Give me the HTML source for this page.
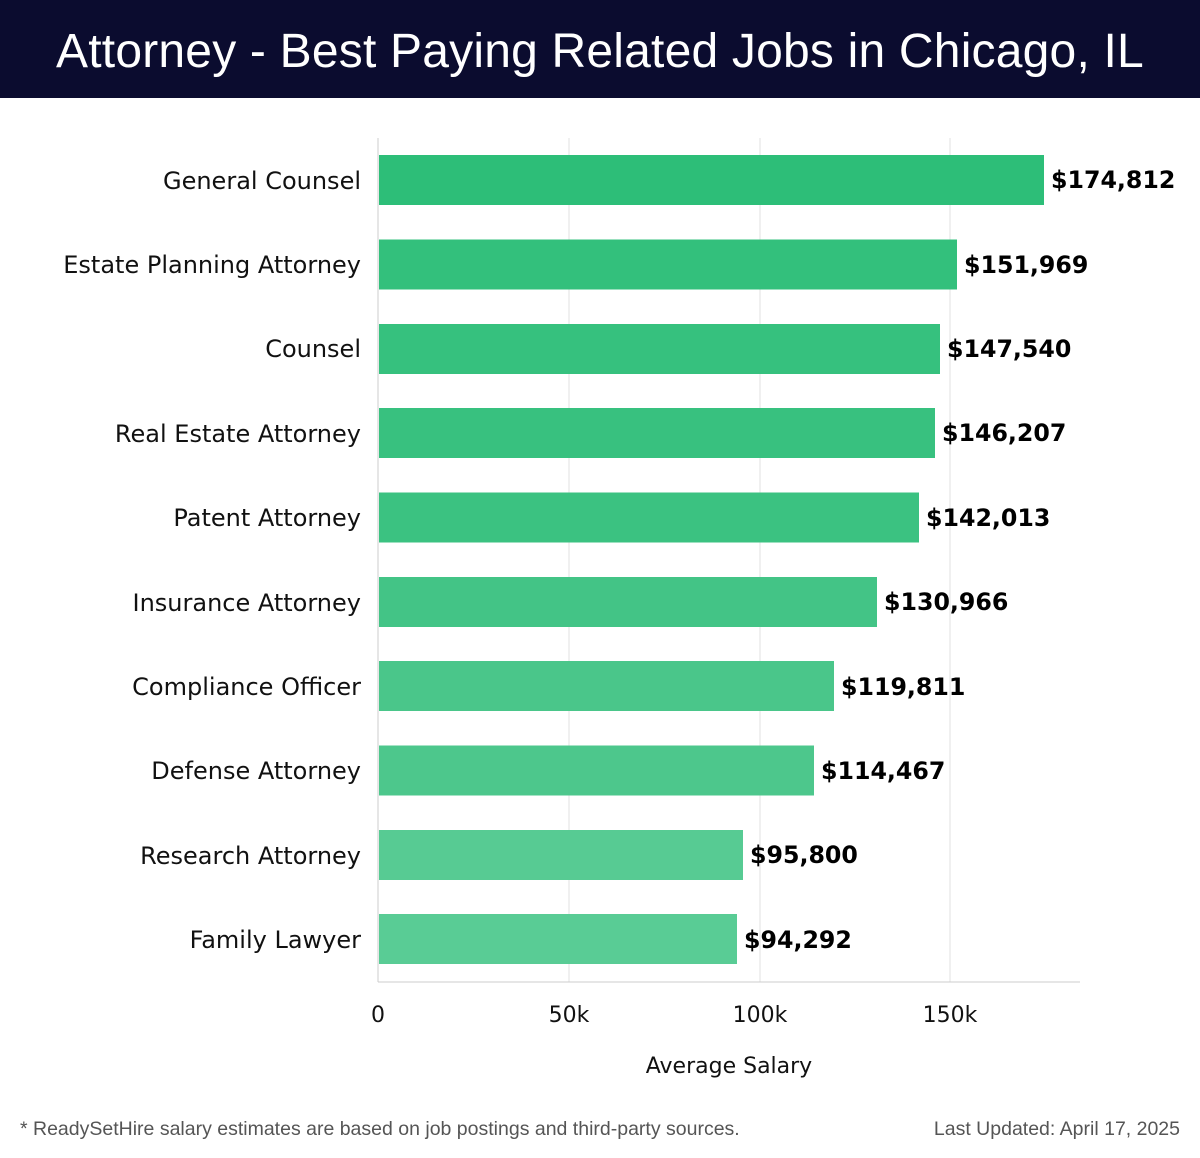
<!DOCTYPE html>
<html><head><meta charset="utf-8"><style>
body{margin:0;width:1200px;height:1158px;background:#fff;font-family:"Liberation Sans","DejaVu Sans",sans-serif;position:relative;overflow:hidden}
.hdr{position:absolute;left:0;top:0;width:1200px;height:98px;background:#0b0c2f;color:#fff;font-size:48px;text-align:center;line-height:104px;letter-spacing:0.2px}
svg{position:absolute;left:0;top:0}
.ft{position:absolute;top:1118px;font-size:19.5px;color:#555}
</style></head><body>
<div class="hdr">Attorney - Best Paying Related Jobs in Chicago, IL</div>
<svg width="1200" height="1158" font-family="DejaVu Sans, sans-serif">
<g stroke="#e2e2e2" stroke-width="1">
<line x1="569" y1="138" x2="569" y2="982"/><line x1="760" y1="138" x2="760" y2="982"/><line x1="950" y1="138" x2="950" y2="982"/>
</g>
<line x1="378" y1="138" x2="378" y2="982" stroke="#ccc"/>
<line x1="378" y1="982" x2="1080" y2="982" stroke="#ccc"/>
<g font-size="24" text-anchor="end" fill="#111">
<text x="361" y="189">General Counsel</text>
<text x="361" y="273">Estate Planning Attorney</text>
<text x="361" y="357">Counsel</text>
<text x="361" y="442">Real Estate Attorney</text>
<text x="361" y="526">Patent Attorney</text>
<text x="361" y="611">Insurance Attorney</text>
<text x="361" y="695">Compliance Officer</text>
<text x="361" y="779">Defense Attorney</text>
<text x="361" y="864">Research Attorney</text>
<text x="361" y="948">Family Lawyer</text>
</g>
<g>
<rect x="379" y="155" width="665" height="50" fill="#2dbe78"/>
<rect x="379" y="239.5" width="578" height="50" fill="#33c07c"/>
<rect x="379" y="324" width="561" height="50" fill="#36c17e"/>
<rect x="379" y="408" width="556" height="50" fill="#38c17f"/>
<rect x="379" y="492.5" width="540" height="50" fill="#3bc281"/>
<rect x="379" y="577" width="498" height="50" fill="#43c486"/>
<rect x="379" y="661" width="455" height="50" fill="#4ac68a"/>
<rect x="379" y="745.5" width="435" height="50" fill="#4dc78c"/>
<rect x="379" y="830" width="364" height="50" fill="#57cb93"/>
<rect x="379" y="914" width="358" height="50" fill="#59cc95"/>
</g>
<g font-size="23.7" font-weight="bold" fill="#000">
<text x="1051" y="188">$174,812</text>
<text x="964" y="273">$151,969</text>
<text x="947" y="357">$147,540</text>
<text x="942" y="441">$146,207</text>
<text x="926" y="526">$142,013</text>
<text x="884" y="610">$130,966</text>
<text x="841" y="695">$119,811</text>
<text x="821" y="779">$114,467</text>
<text x="750" y="863">$95,800</text>
<text x="744" y="948">$94,292</text>
</g>
<g font-size="22" text-anchor="middle" fill="#111">
<text x="378" y="1022">0</text><text x="569" y="1022">50k</text><text x="760" y="1022">100k</text><text x="950" y="1022">150k</text>
<text x="729" y="1073">Average Salary</text>
</g>
</svg>
<div class="ft" style="left:20px">* ReadySetHire salary estimates are based on job postings and third-party sources.</div>
<div class="ft" style="right:20px">Last Updated: April 17, 2025</div>
</body></html>
